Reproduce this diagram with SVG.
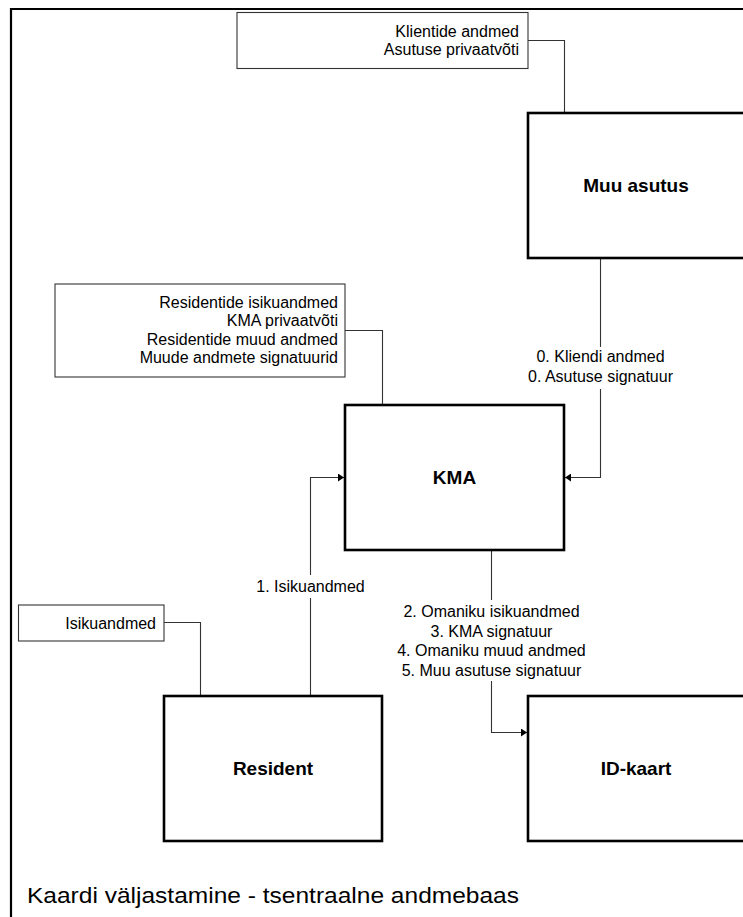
<svg xmlns="http://www.w3.org/2000/svg" width="743" height="917" viewBox="0 0 743 917">
  <style>
    .frame { fill: none; stroke: #000; stroke-width: 2.2; }
    .box { fill: #fff; stroke: #000; stroke-width: 2.6; }
    .note { fill: #fff; stroke: #333; stroke-width: 1.1; }
    .wire { fill: none; stroke: #333; stroke-width: 1.1; }
    .lbl { font-family: "Liberation Sans", Arial, sans-serif; font-size: 16px; fill: #000; }
    .r { text-anchor: end; }
    .c { text-anchor: middle; }
    .name { font-family: "Liberation Sans", Arial, sans-serif; font-size: 19px; font-weight: bold; fill: #000; text-anchor: middle; }
    .title { font-family: "Liberation Sans", Arial, sans-serif; font-size: 22px; fill: #000; }
  </style>
  <defs>
    <marker id="arrow" viewBox="0 0 6 8" refX="6" refY="4" markerWidth="6" markerHeight="8" markerUnits="userSpaceOnUse" orient="auto">
      <path d="M0,0 L6,4 L0,8 Z" fill="#000"/>
    </marker>
  </defs>

  <rect width="743" height="917" fill="#fff"/>

  <!-- page frame (right and bottom edges run off the sheet) -->
  <path class="frame" d="M11,917 V9 H743"/>

  <!-- connectors -->
  <g id="connectors">
    <!-- data store notes to their owners -->
    <path class="wire" d="M528,40.5 H564.5 V113"/>
    <path class="wire" d="M345,330.5 H382.5 V405"/>
    <path class="wire" d="M164,622.5 H200.5 V696"/>
    <!-- Muu asutus -> KMA -->
    <path class="wire" d="M600.5,258 V347"/>
    <path class="wire" d="M600.5,389 V477.5 H565" marker-end="url(#arrow)"/>
    <!-- Resident -> KMA -->
    <path class="wire" d="M310.5,696 V598"/>
    <path class="wire" d="M310.5,575 V477.5 H344" marker-end="url(#arrow)"/>
    <!-- KMA -> ID-kaart -->
    <path class="wire" d="M491.5,550 V600"/>
    <path class="wire" d="M491.5,681 V732.5 H527" marker-end="url(#arrow)"/>

    <text class="lbl c" x="600.5" y="362">0. Kliendi andmed</text>
    <text class="lbl c" x="600.5" y="382">0. Asutuse signatuur</text>
    <text class="lbl c" x="310.5" y="592">1. Isikuandmed</text>
    <text class="lbl c" x="491.5" y="617">2. Omaniku isikuandmed</text>
    <text class="lbl c" x="491.5" y="636.5">3. KMA signatuur</text>
    <text class="lbl c" x="491.5" y="656">4. Omaniku muud andmed</text>
    <text class="lbl c" x="491.5" y="675.5">5. Muu asutuse signatuur</text>
  </g>

  <g id="note-muu-asutus">
    <rect class="note" x="237" y="12.5" width="291" height="56"/>
    <text class="lbl r" x="519" y="36.5">Klientide andmed</text>
    <text class="lbl r" x="519" y="54.5">Asutuse privaatvõti</text>
  </g>

  <g id="note-kma">
    <rect class="note" x="55" y="284" width="290" height="93"/>
    <text class="lbl r" x="338" y="307.5">Residentide isikuandmed</text>
    <text class="lbl r" x="338" y="326">KMA privaatvõti</text>
    <text class="lbl r" x="338" y="344.5">Residentide muud andmed</text>
    <text class="lbl r" x="338" y="363">Muude andmete signatuurid</text>
  </g>

  <g id="note-resident">
    <rect class="note" x="18.5" y="605" width="145.5" height="36"/>
    <text class="lbl r" x="156" y="628.5">Isikuandmed</text>
  </g>

  <g id="muu-asutus">
    <rect class="box" x="528" y="113" width="218" height="145"/>
    <text class="name" x="636" y="192">Muu asutus</text>
  </g>

  <g id="kma">
    <rect class="box" x="345" y="405" width="219" height="145"/>
    <text class="name" x="454.5" y="484">KMA</text>
  </g>

  <g id="resident">
    <rect class="box" x="164" y="696" width="218" height="145"/>
    <text class="name" x="273" y="775">Resident</text>
  </g>

  <g id="id-kaart">
    <rect class="box" x="528" y="696" width="218" height="145"/>
    <text class="name" x="636" y="775">ID-kaart</text>
  </g>

  <text class="title" x="27" y="903" textLength="492" lengthAdjust="spacingAndGlyphs">Kaardi väljastamine - tsentraalne andmebaas</text>
</svg>
